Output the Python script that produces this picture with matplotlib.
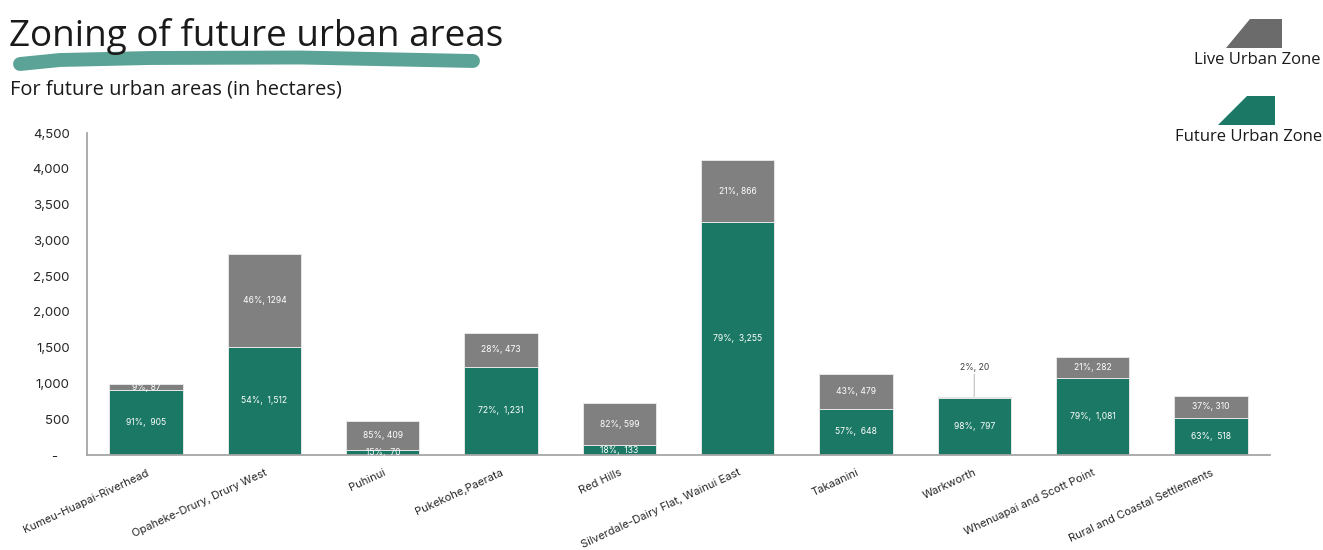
import matplotlib
matplotlib.use("Agg")
import matplotlib.pyplot as plt
from matplotlib.patches import Polygon
from matplotlib.lines import Line2D

# hectares per area, split by zone
areas = ["Kumeu-Huapai-Riverhead", "Opaheke-Drury, Drury West", "Puhinui",
         "Pukekohe,Paerata", "Red Hills", "Silverdale-Dairy Flat, Wainui East",
         "Takaanini", "Warkworth", "Whenuapai and Scott Point",
         "Rural and Coastal Settlements"]
future_zone = [905, 1512, 70, 1231, 133, 3255, 648, 797, 1081, 518]
live_zone = [87, 1294, 409, 473, 599, 866, 479, 20, 282, 310]

yticks = [0, 500, 1000, 1500, 2000, 2500, 3000, 3500, 4000, 4500]
yticklabels = ["-   ", "500", "1,000", "1,500", "2,000", "2,500", "3,000",
               "3,500", "4,000", "4,500"]

GREEN = "#1a7864"
GREY = "#808080"
W, H = 1323, 550

plt.rcParams["font.family"] = ["Inter", "DejaVu Sans"]

fig = plt.figure(figsize=(W / 100, H / 100), dpi=100)
ax = fig.add_axes([87 / W, 1 - 455 / H, (1270 - 87) / W, (455 - 133) / H])

x = list(range(len(areas)))
ax.bar(x, future_zone, width=0.62, color=GREEN, edgecolor="#e6e6e6", linewidth=0.7, zorder=2)
ax.bar(x, live_zone, width=0.62, bottom=future_zone, color=GREY,
       edgecolor="#e6e6e6", linewidth=0.7, zorder=2)

for i in x:
    f, l = future_zone[i], live_zone[i]
    tot = f + l
    pf = round(100 * f / tot)
    pl = round(100 * l / tot)
    ax.text(i, f / 2, f"{pf}%,  {f:,}", ha="center", va="center",
            color="white", fontsize=6.2, zorder=3)
    if l < 50:
        # too thin to hold its label, put it above with a leader line
        ax.annotate(f"{pl}%, {l}", xy=(i, tot), xytext=(0, 18),
                    textcoords="offset points", ha="center", va="bottom",
                    color="#404040", fontsize=6.2,
                    arrowprops=dict(arrowstyle="-", color="#bfbfbf", lw=0.8,
                                    shrinkA=0, shrinkB=0))
    else:
        ax.text(i, f + l / 2, f"{pl}%, {l}", ha="center", va="center",
                color="white", fontsize=6.2, zorder=3)

ax.set_xlim(-0.5, len(areas) - 0.5)
ax.set_ylim(0, 4500)
ax.set_yticks(yticks)
ax.set_yticklabels(yticklabels, fontsize=9.5, color="#262626")
ax.set_xticks(x)
ax.set_xticklabels(areas, rotation=25, ha="right", va="top",
                   rotation_mode="anchor", fontsize=8, color="#262626")
ax.tick_params(axis="both", length=0)
ax.tick_params(axis="y", pad=12.5)
ax.tick_params(axis="x", pad=9)
for side in ["top", "right"]:
    ax.spines[side].set_visible(False)
for side in ["left", "bottom"]:
    ax.spines[side].set_color("#a6a6a6")
    ax.spines[side].set_linewidth(1.3)


def fx(px):
    return px / W


def fy(py):
    return 1 - py / H


# brush stroke under the title
stroke_x = [20, 60, 150, 300, 473]
stroke_y = [64, 60, 58, 57.5, 61]
fig.add_artist(Line2D([fx(v) for v in stroke_x], [fy(v) for v in stroke_y],
                      color="#5ba396", lw=10, solid_capstyle="round",
                      solid_joinstyle="round", zorder=1))

fig.text(fx(9), fy(46), "Zoning of future urban areas", fontsize=26.6,
         family="Open Sans", color="#1a1a1a", va="baseline", zorder=2)
fig.text(fx(10), fy(94), "For future urban areas (in hectares)", fontsize=14.4,
         family="Open Sans", color="#1a1a1a", va="baseline")

# legend shapes
live_shape = [(1226, 48), (1250, 19), (1282, 19), (1282, 48)]
future_shape = [(1218, 125), (1247, 96), (1275, 96), (1275, 125)]
fig.add_artist(Polygon([(fx(a), fy(b)) for a, b in live_shape], closed=True,
                       facecolor="#6b6b6b", edgecolor="none"))
fig.add_artist(Polygon([(fx(a), fy(b)) for a, b in future_shape], closed=True,
                       facecolor=GREEN, edgecolor="none"))
fig.text(fx(1320), fy(60), "Live Urban Zone", fontsize=12, family="Open Sans",
         ha="right", va="center", color="#1a1a1a")
fig.text(fx(1322), fy(137), "Future Urban Zone", fontsize=12, family="Open Sans",
         ha="right", va="center", color="#1a1a1a")

fig.savefig("out.png", dpi=100, facecolor="white")
